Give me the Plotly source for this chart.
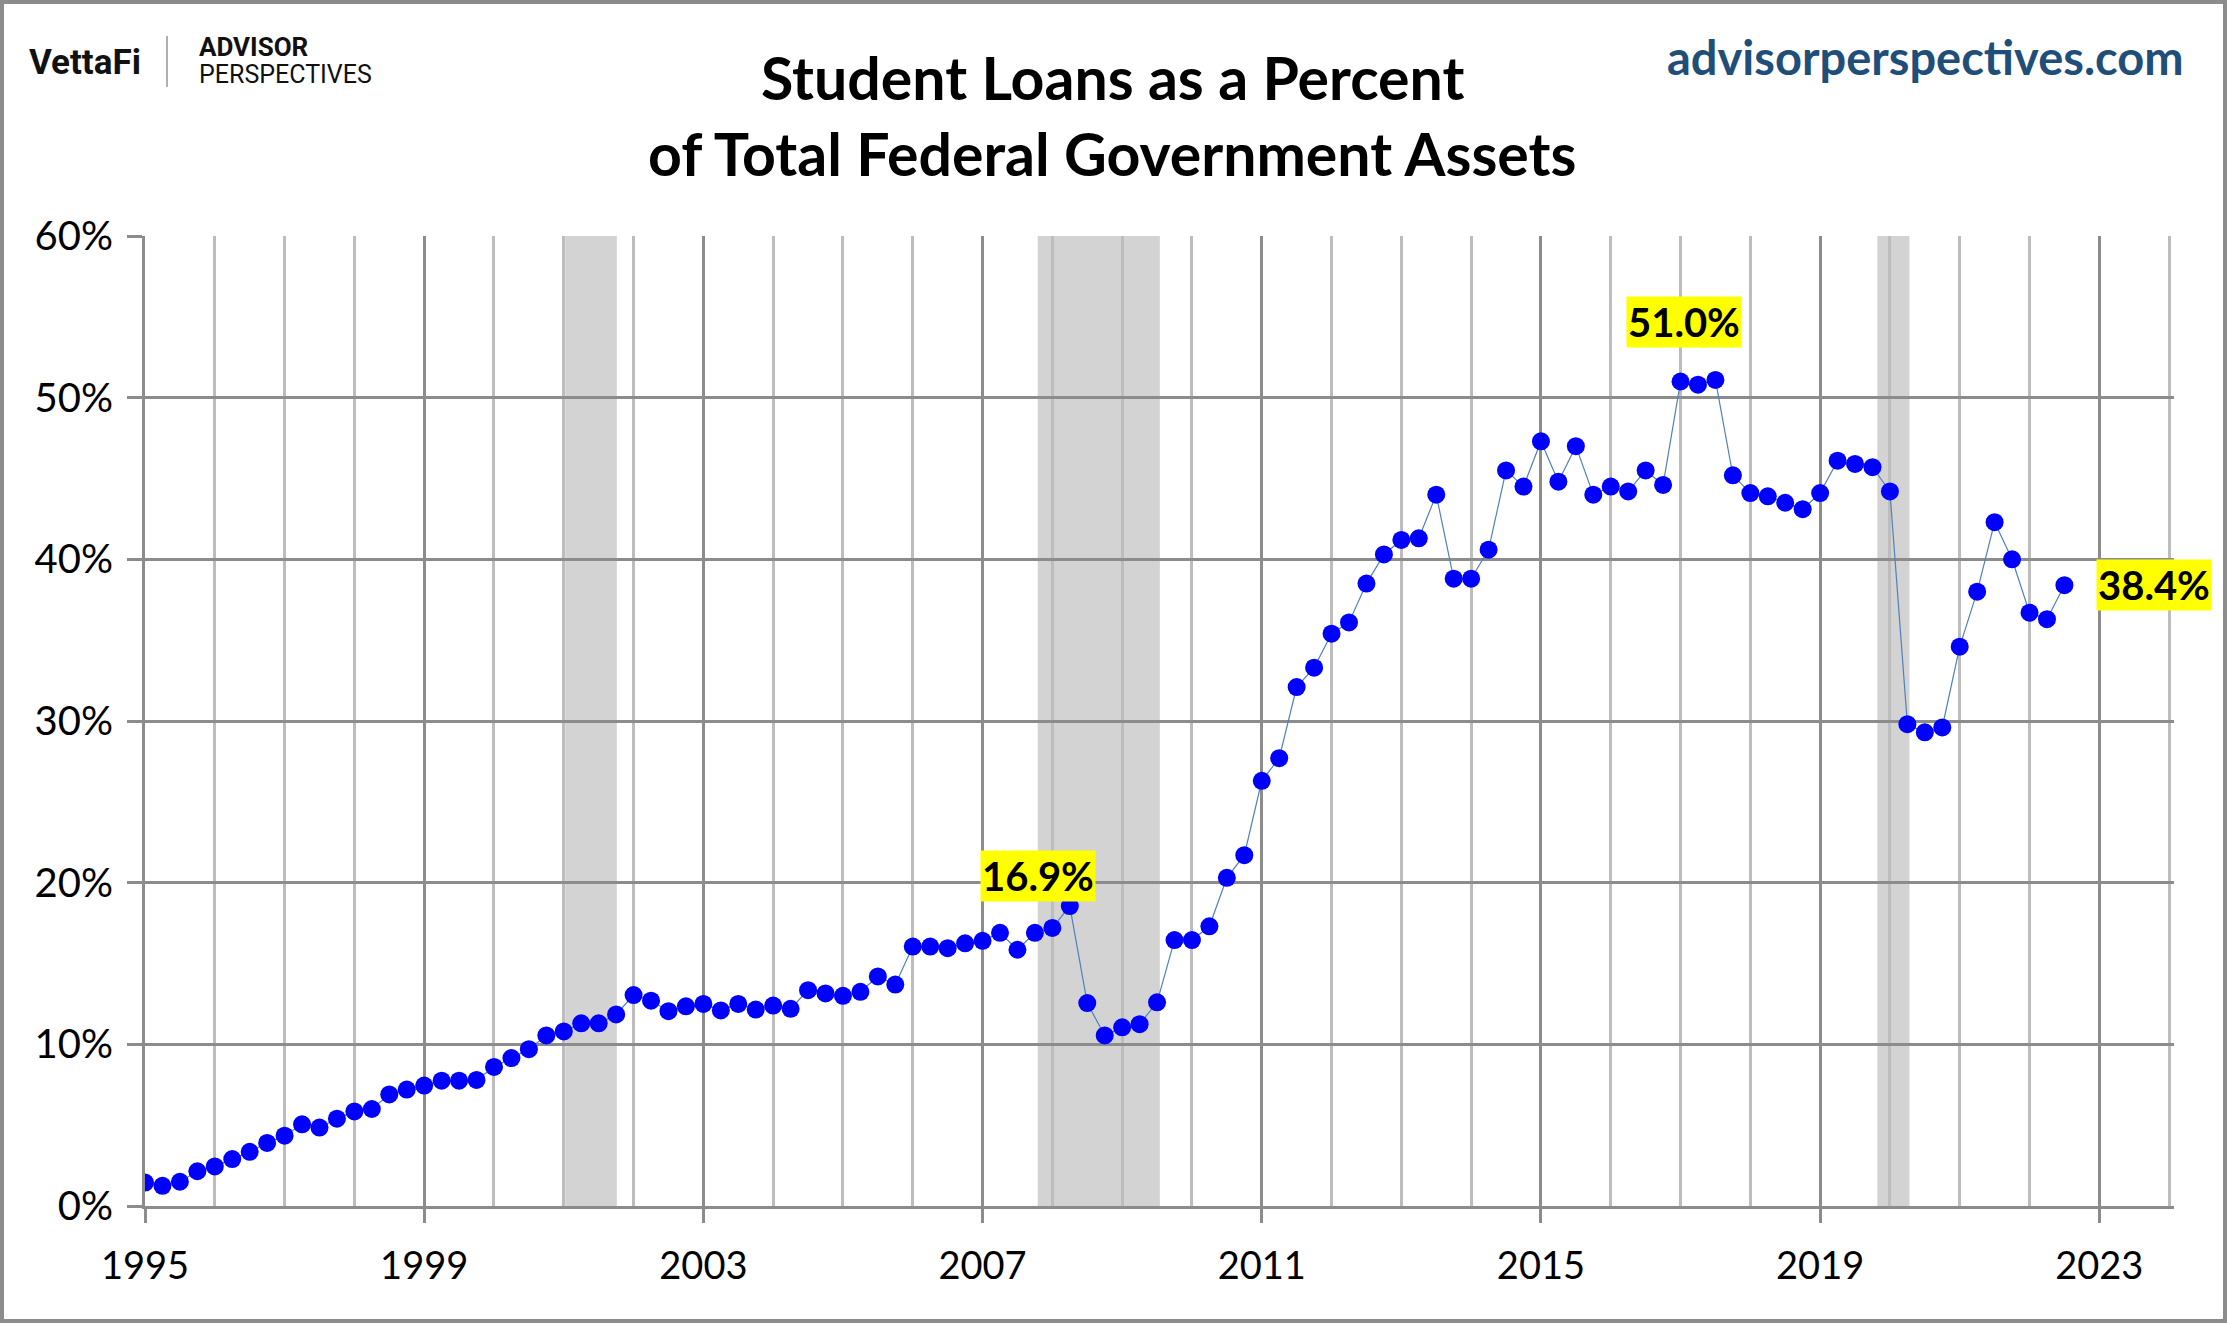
import plotly.graph_objects as go

# quarterly values, 1995 Q1 .. 2022 Q3 (percent)
student_loan_pct = [
    1.45, 1.25, 1.5, 2.15,
    2.45, 2.9, 3.35, 3.9,
    4.35, 5.05, 4.85, 5.4,
    5.85, 6.0, 6.9, 7.2,
    7.45, 7.75, 7.75, 7.8,
    8.6, 9.15, 9.7, 10.55,
    10.8, 11.3, 11.3, 11.85,
    13.05, 12.7, 12.05, 12.35,
    12.5, 12.1, 12.5, 12.15,
    12.4, 12.2, 13.35, 13.15,
    13.0, 13.25, 14.2, 13.7,
    16.05, 16.05, 15.95, 16.25,
    16.4, 16.9, 15.85, 16.9,
    17.2, 18.55, 12.55, 10.55,
    11.05, 11.25, 12.6, 16.45,
    16.45, 17.3, 20.3, 21.7,
    26.3, 27.7, 32.1, 33.3,
    35.4, 36.1, 38.5, 40.3,
    41.2, 41.3, 44.0, 38.8,
    38.8, 40.6, 45.5, 44.5,
    47.3, 44.8, 47.0, 44.0,
    44.5, 44.2, 45.5, 44.6,
    51.0, 50.8, 51.1, 45.2,
    44.1, 43.9, 43.5, 43.1,
    44.1, 46.1, 45.9, 45.7,
    44.2, 29.8, 29.3, 29.6,
    34.6, 38.0, 42.3, 40.0,
    36.7, 36.3, 38.4,
]
start_year = 1995
quarter_x = [start_year + i / 4 for i in range(len(student_loan_pct))]

recessions = [(2001.02, 2001.76), (2007.79, 2009.54), (2019.82, 2020.28)]
x_ticks = [1995, 1999, 2003, 2007, 2011, 2015, 2019, 2023]
y_ticks = [0, 10, 20, 30, 40, 50, 60]
y_tick_text = ["0%", "10%", "20%", "30%", "40%", "50%", "60%"]

# callouts: (text, x, y)
callouts = [("16.9%", 2007.8, 20.4), ("51.0%", 2017.05, 54.7)]

FONT = "Lato, Arial, sans-serif"
W, H = 2227, 1323
L, R, T, B = 145, 53, 236, 117
PW, PH = W - L - R, H - T - B


def px(x):
    return (x - L) / PW


def py(y):
    return (H - B - y) / PH


fig = go.Figure()
fig.add_trace(go.Scatter(
    x=quarter_x,
    y=student_loan_pct,
    mode="lines+markers",
    line=dict(color="#4f81bd", width=1.2),
    marker=dict(color="#0000ff", size=18),
    showlegend=False,
    hoverinfo="x+y",
))

for x0, x1 in recessions:
    fig.add_shape(type="rect", xref="x", yref="y", x0=x0, x1=x1, y0=0, y1=60,
                  fillcolor="#d3d3d3", line_width=0, layer="below")

# outer frame
fig.add_shape(type="rect", xref="paper", yref="paper",
              x0=px(2), x1=px(W - 2), y0=py(H - 2), y1=py(2),
              line=dict(color="#8c8c8c", width=4), layer="above")
# logo separator
fig.add_shape(type="line", xref="paper", yref="paper",
              x0=px(167), x1=px(167), y0=py(36), y1=py(87),
              line=dict(color="#b0b0b0", width=2))

annotations = [
    dict(text="<b>Student Loans as a Percent</b>", x=px(1112), y=py(78),
         font=dict(size=59, color="#000000")),
    dict(text="<b>of Total Federal Government Assets</b>", x=px(1112), y=py(153),
         font=dict(size=59, color="#000000")),
    dict(text="<b>advisorperspectives.com</b>", x=px(2186), y=py(57), xanchor="right",
         font=dict(size=47, color="#1f4e79")),
    dict(text="<b>VettaFi</b>", x=px(27), y=py(63), xanchor="left",
         font=dict(size=35, color="#111111", family="Roboto, Arial, sans-serif")),
    dict(text="<b>ADVISOR</b>", x=px(197), y=py(47), xanchor="left",
         font=dict(size=26, color="#111111", family="Roboto, Arial, sans-serif")),
    dict(text="PERSPECTIVES", x=px(197), y=py(75), xanchor="left",
         font=dict(size=25, color="#111111", family="Roboto, Arial, sans-serif")),
]
for a in annotations:
    a.update(xref="paper", yref="paper", showarrow=False)
    a.setdefault("xanchor", "center")
    a["yanchor"] = "middle"
    fig.add_annotation(**a)

for text, x, y in callouts:
    fig.add_annotation(text=f"<b>{text}</b>", x=x, y=y, xref="x", yref="y",
                       showarrow=False, bgcolor="#ffff00", borderpad=1,
                       font=dict(size=40, color="#000000"))
fig.add_annotation(text=f"<b>{student_loan_pct[-1]:.1f}%</b>", x=quarter_x[-1],
                   y=student_loan_pct[-1], xref="x", yref="y", xanchor="left",
                   xshift=32, showarrow=False, bgcolor="#ffff00", borderpad=1,
                   font=dict(size=40, color="#000000"))

fig.update_layout(
    width=W, height=H,
    margin=dict(l=L, r=R, t=T, b=B),
    paper_bgcolor="#ffffff",
    plot_bgcolor="#ffffff",
    font=dict(family=FONT, color="#000000", size=38),
)
fig.update_xaxes(
    range=[1995, 2024.07],
    tickvals=x_ticks,
    tickformat="d",
    showgrid=True, gridcolor="#8c8c8c", gridwidth=3,
    minor=dict(dtick=1, tick0=1995, showgrid=True, gridcolor="#bdbdbd", gridwidth=3),
    ticks="outside", ticklen=14, tickwidth=3, tickcolor="#8c8c8c",
    showline=True, linecolor="#8c8c8c", linewidth=3,
    zeroline=False,
    ticklabelstandoff=10,
    tickfont=dict(size=38),
)
fig.update_yaxes(
    range=[0, 60],
    tickvals=y_ticks,
    ticktext=y_tick_text,
    showgrid=True, gridcolor="#8c8c8c", gridwidth=3,
    ticks="outside", ticklen=15, tickwidth=3, tickcolor="#8c8c8c",
    showline=True, linecolor="#8c8c8c", linewidth=3,
    zeroline=False,
    ticklabelstandoff=6,
    tickfont=dict(size=40),
)

fig.write_html("out.html", config={"displayModeBar": False},
               post_script="document.body.style.margin='0';")
